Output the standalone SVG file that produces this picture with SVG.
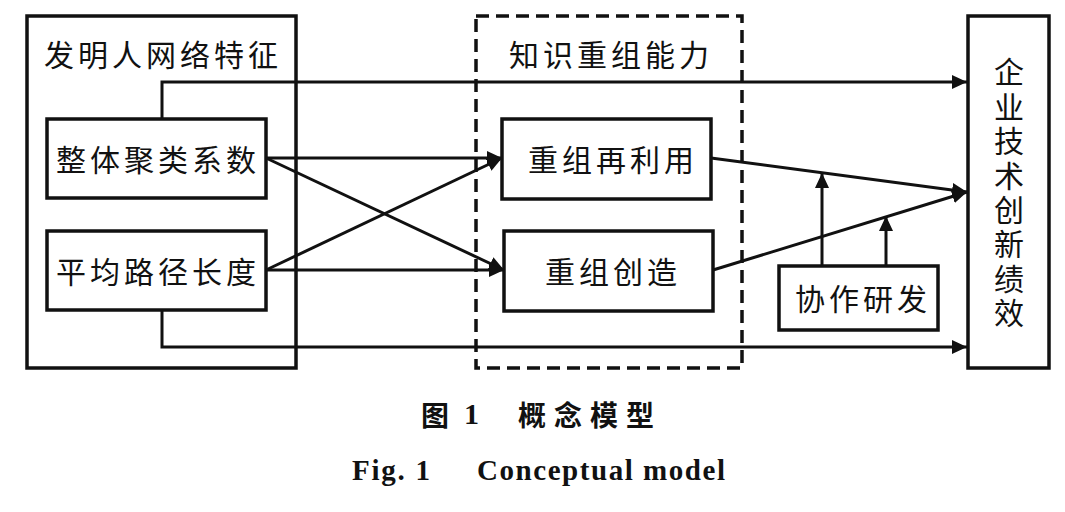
<svg xmlns="http://www.w3.org/2000/svg" width="1065" height="512" viewBox="0 0 1065 512">
<style>
.box{fill:#fff;stroke:#111;stroke-width:3.5}
.dash{fill:none;stroke:#111;stroke-width:3.5;stroke-dasharray:13 7}
.cn{font-family:"Noto Sans CJK SC","Noto Sans CJK JP",sans-serif;font-size:30px;fill:#111;letter-spacing:4px;dominant-baseline:central}
.ln{fill:none;stroke:#111;stroke-width:3}
.cap{font-family:"Noto Sans CJK SC",sans-serif;font-weight:bold;font-size:28px;fill:#111;dominant-baseline:central}
.en{font-family:"Liberation Serif",serif;font-weight:bold;font-size:29px;fill:#111}
</style>
<defs>
<marker id="ah" markerUnits="userSpaceOnUse" markerWidth="15" markerHeight="14" refX="15" refY="7" orient="auto">
<path d="M0,0 L15,7 L0,14 z" fill="#111"/>
</marker>
</defs>
<rect width="1065" height="512" fill="#fff"/>
<g id="network">
<rect class="box" x="27" y="16" width="269" height="352"/>
<text class="cn" x="44" y="53">发明人网络特征</text>
</g>
<g id="knowledge">
<rect class="dash" x="476" y="16" width="266" height="352"/>
<text class="cn" x="509" y="53">知识重组能力</text>
</g>
<g id="performance">
<rect class="box" x="968" y="16" width="81" height="352"/>
<text class="cn" x="1009" y="57" style="writing-mode:vertical-rl;letter-spacing:4.4px">企业技术创新绩效</text>
</g>
<g id="connectors">
<path class="ln" d="M162,119 V82 H967" marker-end="url(#ah)"/>
<path class="ln" d="M162,310 V347 H967" marker-end="url(#ah)"/>
<path class="ln" d="M266,158 L502,158" marker-end="url(#ah)"/>
<path class="ln" d="M266,158 L504,270" marker-end="url(#ah)"/>
<path class="ln" d="M266,270 L502,158" marker-end="url(#ah)"/>
<path class="ln" d="M266,270 L504,270" marker-end="url(#ah)"/>
<path class="ln" d="M711,158 L967,192" marker-end="url(#ah)"/>
<path class="ln" d="M713,270 L967,192" marker-end="url(#ah)"/>
<path class="ln" d="M822,266 V173" marker-end="url(#ah)"/>
<path class="ln" d="M886,266 V216" marker-end="url(#ah)"/>
</g>
<g id="cluster">
<rect class="box" x="47" y="119" width="219" height="79"/>
<text class="cn" x="56" y="158">整体聚类系数</text>
</g>
<g id="pathlen">
<rect class="box" x="47" y="231" width="219" height="79"/>
<text class="cn" x="56" y="270">平均路径长度</text>
</g>
<g id="reuse">
<rect class="box" x="502" y="119" width="209" height="80"/>
<text class="cn" x="528" y="158">重组再利用</text>
</g>
<g id="create">
<rect class="box" x="504" y="231" width="209" height="80"/>
<text class="cn" x="545" y="270">重组创造</text>
</g>
<g id="rd">
<rect class="box" x="779" y="266" width="159" height="64"/>
<text class="cn" x="795" y="297">协作研发</text>
</g>
<g id="caption">
<text class="cap" x="421" y="414">图</text>
<text class="en" x="464" y="424" style="font-size:30px">1</text>
<text class="cap" x="518" y="414" style="letter-spacing:8px">概念模型</text>
<text class="en" x="352" y="480" textLength="78">Fig. 1</text>
<text class="en" x="477" y="480" textLength="248">Conceptual model</text>
</g>
</svg>
